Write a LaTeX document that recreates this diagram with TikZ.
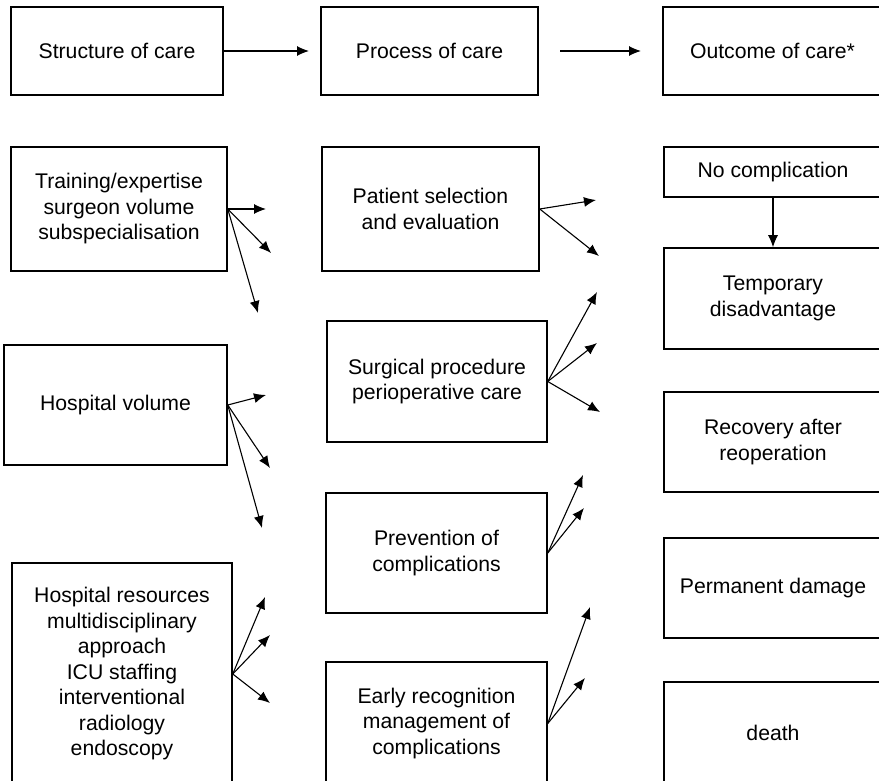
\documentclass[tikz,border=0pt]{standalone}
\usepackage{fontspec}
\setmainfont{Liberation Sans}
\usetikzlibrary{arrows.meta}

\begin{document}
\begin{tikzpicture}[x=1pt, y=-1pt, >={Latex[length=12pt,width=10pt]},
    carebox/.style={draw, line width=1.5pt, align=center, inner sep=0pt,
      font=\fontsize{21.2}{25.5}\selectfont},
    arr/.style={->, line width=1.1pt}]
    \useasboundingbox (0,0) rectangle (879,781);
    \clip (0,0) rectangle (879,781);
    % Draw header row
    \node[carebox, minimum width=212pt, minimum height=88pt] (structure) at (117,51) {Structure of care};
    \node[carebox, minimum width=217pt, minimum height=88pt] (process) at (429.5,51) {Process of care};
    \node[carebox, minimum width=219pt, minimum height=88pt] (outcome) at (772.5,51) {Outcome of care*};
    \coordinate (h1) at (309,51);
    \coordinate (h2s) at (560,51);
    \coordinate (h2) at (641,51);
    \draw[arr] (structure.east) -- (h1);
    \draw[arr] (h2s) -- (h2);
    % Draw structure column
    \node[carebox, minimum width=216pt, minimum height=124pt] (training) at (119,209)
      {Training/expertise\\surgeon volume\\subspecialisation};
    \node[carebox, minimum width=223pt, minimum height=120pt] (hospvol) at (115.5,405) {Hospital volume};
    \node[carebox, minimum width=220pt, minimum height=222pt] (resources) at (122,674)
      {Hospital resources\\multidisciplinary\\approach\\ICU staffing\\interventional\\radiology\\endoscopy};
    % Draw process column
    \node[carebox, minimum width=217pt, minimum height=124pt] (patient) at (430.5,209)
      {Patient selection\\and evaluation};
    \node[carebox, minimum width=220pt, minimum height=121pt] (surgical) at (437,381.5)
      {Surgical procedure\\perioperative care};
    \node[carebox, minimum width=221pt, minimum height=120pt] (prevention) at (436.5,553)
      {Prevention of\\complications};
    \node[carebox, minimum width=221pt, minimum height=123pt] (early) at (436.5,723.5)
      {Early recognition\\management of\\complications};
    % Draw outcome column
    \node[carebox, minimum width=218pt, minimum height=50pt] (nocomp) at (773,172) {No complication};
    \node[carebox, minimum width=218pt, minimum height=101pt] (temporary) at (773,298.5)
      {Temporary\\disadvantage};
    \node[carebox, minimum width=218pt, minimum height=100pt] (recovery) at (773,442)
      {Recovery after\\reoperation};
    \node[carebox, minimum width=218pt, minimum height=100pt] (permanent) at (773,588) {Permanent damage};
    \node[carebox, minimum width=218pt, minimum height=102pt] (death) at (773,733) {death};
    \draw[arr] (nocomp.south) -- (temporary.north);
    % Arrow ends of the fans
    \coordinate (tr1) at (266,209);
    \coordinate (tr2) at (271,253);
    \coordinate (tr3) at (258,313);
    \coordinate (hv1) at (266,395);
    \coordinate (hv2) at (270,468);
    \coordinate (hv3) at (262,528);
    \coordinate (rs1) at (265,597);
    \coordinate (rs2) at (270,635);
    \coordinate (rs3) at (270,703);
    \coordinate (pa1) at (596,200);
    \coordinate (pa2) at (599,256);
    \coordinate (su1) at (597,292);
    \coordinate (su2) at (597,343);
    \coordinate (su3) at (600,412);
    \coordinate (pr1) at (583,475);
    \coordinate (pr2) at (584,508);
    \coordinate (er1) at (590,607);
    \coordinate (er2) at (585,678);
    % Draw fans
    \foreach \t in {tr1,tr2,tr3} \draw[arr] (training.east) -- (\t);
    \foreach \t in {hv1,hv2,hv3} \draw[arr] (hospvol.east) -- (\t);
    \foreach \t in {rs1,rs2,rs3} \draw[arr] (resources.east) -- (\t);
    \foreach \t in {pa1,pa2} \draw[arr] (patient.east) -- (\t);
    \foreach \t in {su1,su2,su3} \draw[arr] (surgical.east) -- (\t);
    \foreach \t in {pr1,pr2} \draw[arr] (prevention.east) -- (\t);
    \foreach \t in {er1,er2} \draw[arr] (early.east) -- (\t);
\end{tikzpicture}
\end{document}
